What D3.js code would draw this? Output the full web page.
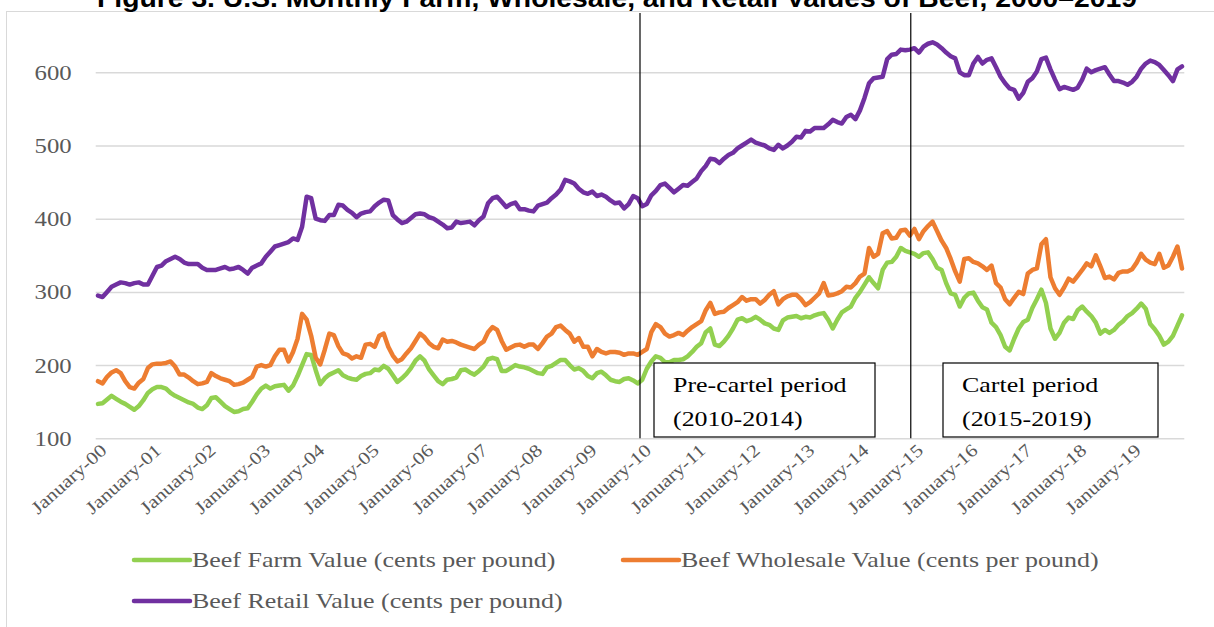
<!DOCTYPE html>
<html>
<head>
<meta charset="utf-8">
<script src="https://cdn.jsdelivr.net/npm/d3@7"></script>
<style>
  body { margin: 0; background: #fff; }
  svg { display: block; }
</style>
</head>
<body>
<div id="chart"></div>
<script>
// Monthly values, January 2000 to December 2019 (cents per pound)
const farm = [
  147,148,153,158,154,150,147,143,139,144,152,162,
  167,170,170,168,162,158,155,152,149,147,142,140,
  145,155,156,150,144,140,136,137,140,141,150,160,
  168,172,168,171,172,173,165,172,185,200,215,214,
  193,174,182,187,190,193,186,183,181,180,185,188,
  189,194,193,199,195,186,177,182,188,196,206,212,
  206,194,186,178,174,180,181,183,193,194,190,187,
  192,198,208,210,208,192,192,196,200,198,197,195,
  192,189,188,197,199,203,207,207,200,194,196,192,
  185,182,189,191,186,180,178,177,181,182,179,175,
  180,195,205,212,210,204,204,207,207,208,212,218,
  225,230,245,250,228,226,232,240,250,262,264,260,
  262,266,262,257,255,250,248,261,265,266,267,264,
  266,265,268,270,271,262,250,262,272,276,280,292,
  300,310,320,312,305,330,340,341,348,360,356,354,
  352,348,353,354,345,333,330,312,298,296,280,292,
  298,299,288,279,276,258,252,241,225,220,236,250,
  259,262,278,290,303,285,250,236,244,258,265,263,
  275,280,273,267,258,243,248,244,248,255,260,267,
  271,277,284,277,256,249,240,228,232,240,254,268
];

const wholesale = [
  178,175,184,190,193,189,178,170,168,176,181,196,
  201,202,202,203,205,198,187,187,183,178,174,175,
  177,189,185,182,180,178,173,174,176,180,184,198,
  200,198,200,212,221,221,205,218,236,270,262,240,
  210,201,221,243,241,226,216,214,209,212,210,228,
  229,225,240,243,225,213,205,208,216,223,233,243,
  238,230,225,223,235,232,233,231,228,226,224,222,
  228,232,245,252,248,233,221,224,227,228,225,228,
  228,222,230,239,243,252,254,248,243,232,237,225,
  225,212,222,218,216,218,218,217,214,216,216,214,
  218,222,245,256,252,243,239,241,244,241,247,252,
  256,260,275,285,270,272,273,278,282,286,293,288,
  290,290,284,289,296,301,283,290,294,296,296,290,
  282,286,292,298,312,295,296,298,301,307,306,312,
  321,325,360,348,352,380,383,373,374,384,385,377,
  386,372,383,390,396,383,370,360,345,328,314,345,
  346,341,339,335,330,336,312,306,290,283,292,300,
  297,325,330,332,365,372,320,305,296,306,318,314,
  322,330,339,335,350,335,319,321,317,326,328,328,
  331,340,352,344,340,338,352,333,336,348,362,332
];

const retail = [
  295,293,300,307,310,313,312,310,312,313,310,310,
  322,334,336,342,345,348,345,340,338,338,338,333,
  330,330,330,332,334,331,332,334,330,325,333,336,
  339,348,355,362,364,366,368,373,371,389,430,428,
  400,398,397,405,405,419,418,412,408,402,407,409,
  410,417,422,426,425,405,399,394,396,401,406,407,
  406,402,400,396,392,387,388,396,394,395,396,391,
  398,403,421,428,430,423,416,420,422,413,413,411,
  410,418,420,422,428,433,440,453,451,448,441,436,
  434,437,431,433,430,425,421,422,414,420,431,428,
  417,420,432,438,446,448,442,436,441,446,445,450,
  455,465,472,482,481,476,482,487,490,496,500,504,
  508,504,502,500,496,494,501,496,500,505,512,511,
  520,519,524,524,524,529,535,532,530,539,542,536,
  548,565,585,592,593,594,618,624,625,631,630,631,
  633,627,635,639,641,638,633,627,622,619,600,596,
  596,612,621,612,617,619,607,594,585,578,576,564,
  572,587,592,601,618,620,604,590,577,580,578,576,
  579,590,605,600,603,605,607,597,588,588,586,583,
  587,594,605,612,616,614,610,603,596,588,604,608
];

const tickLabels = [
  "January-00","January-01","January-02","January-03","January-04",
  "January-05","January-06","January-07","January-08","January-09",
  "January-10","January-11","January-12","January-13","January-14",
  "January-15","January-16","January-17","January-18","January-19"
];
const yTicks = [100, 200, 300, 400, 500, 600];

const seriesNames = [
  "Beef Farm Value (cents per pound)",
  "Beef Wholesale Value (cents per pound)",
  "Beef Retail Value (cents per pound)"
];
const seriesColors = ["#92d050", "#ed7d31", "#7030a0"];

// period dividers (month index) and their boxes
const periodBreaks = [119.5, 179.2];
const periodLines = [["Pre-cartel period", "(2010-2014)"], ["Cartel period", "(2015-2019)"]];

const title = "Figure 3. U.S. Monthly Farm, Wholesale, and Retail Values of Beef, 2000\u20132019";

const width = 1214;
const height = 627;
const stretch = 1.18;   // the original text is a bit wide
const serif = "'Liberation Serif', 'Times New Roman', serif";
const grey = "#595959";

const x = d3.scaleLinear().domain([0, 239]).range([98, 1182]);
const y = d3.scaleLinear().domain([100, 600]).range([438.3, 72.3]);

const svg = d3.select("#chart").append("svg")
  .attr("width", width)
  .attr("height", height)
  .attr("viewBox", [0, 0, width, height]);

svg.append("rect").attr("width", width).attr("height", height).attr("fill", "#fff");

// outer frame
svg.append("rect")
  .attr("x", 6.5).attr("y", 11.5)
  .attr("width", width).attr("height", height)
  .attr("fill", "none").attr("stroke", "#d9d9d9");

// title (cut off at the top in the original)
svg.append("text")
  .attr("x", width / 2 + 10).attr("y", 7)
  .attr("text-anchor", "middle")
  .attr("font-family", "'Liberation Sans', Arial, sans-serif")
  .attr("font-weight", "bold")
  .attr("font-size", 26)
  .attr("textLength", 1040)
  .attr("lengthAdjust", "spacingAndGlyphs")
  .attr("fill", "#000")
  .text(title);

// y axis: gridlines and labels
const yAxis = svg.append("g")
  .attr("transform", `translate(${x(0) - 2.3},0)`)
  .call(d3.axisLeft(y).tickValues(yTicks).tickSize(-(x(239) - x(0) + 4.6)).tickPadding(0))
  .call(g => g.select(".domain").remove())
  .call(g => g.selectAll(".tick line").attr("stroke", "#d9d9d9").attr("stroke-width", 1.5))
  .call(g => g.selectAll(".tick text").remove());

yAxis.selectAll(".tick").append("text")
  .attr("transform", `translate(-24,7) scale(${stretch},1)`)
  .attr("text-anchor", "end")
  .attr("font-family", serif)
  .attr("font-size", 21)
  .attr("fill", grey)
  .text(d => d);

// x axis labels, one per January
svg.append("g")
  .selectAll("text")
  .data(tickLabels)
  .join("text")
  .attr("transform", (d, i) => `translate(${x(i * 12) + 10},452) rotate(-42) scale(${stretch},1)`)
  .attr("text-anchor", "end")
  .attr("font-family", serif)
  .attr("font-size", 18)
  .attr("fill", grey)
  .text(d => d);

// series lines
const line = d3.line()
  .x((d, i) => x(i))
  .y(d => y(d));

svg.append("g")
  .attr("fill", "none")
  .attr("stroke-width", 4.5)
  .attr("stroke-linejoin", "round")
  .attr("stroke-linecap", "round")
  .selectAll("path")
  .data([farm, wholesale, retail])
  .join("path")
  .attr("stroke", (d, i) => seriesColors[i])
  .attr("d", line);

// period dividers
svg.append("g")
  .selectAll("line")
  .data(periodBreaks)
  .join("line")
  .attr("x1", d => x(d)).attr("x2", d => x(d))
  .attr("y1", 13).attr("y2", y(100))
  .attr("stroke", "#000")
  .attr("stroke-width", 1.2);

// period boxes
const boxes = svg.append("g")
  .selectAll("g")
  .data(periodLines)
  .join("g")
  .attr("transform", (d, i) => `translate(${[654, 943][i]},363)`);

boxes.append("rect")
  .attr("width", (d, i) => [221, 215][i])
  .attr("height", 74)
  .attr("fill", "#fff")
  .attr("stroke", "#000")
  .attr("stroke-width", 1.2);

boxes.each(function(d) {
  d3.select(this).selectAll("text")
    .data(d)
    .join("text")
    .attr("transform", (t, j) => `translate(19,${29 + j * 34}) scale(${stretch},1)`)
    .attr("font-family", serif)
    .attr("font-size", 22)
    .attr("fill", "#000")
    .text(t => t);
});

// legend
const legendPos = [[134, 560], [623, 560], [134, 601]];
const legend = svg.append("g")
  .selectAll("g")
  .data(seriesNames)
  .join("g")
  .attr("transform", (d, i) => `translate(${legendPos[i][0]},${legendPos[i][1]})`);

legend.append("line")
  .attr("x1", 0).attr("x2", 56)
  .attr("stroke", (d, i) => seriesColors[i])
  .attr("stroke-width", 4.5)
  .attr("stroke-linecap", "round");

legend.append("text")
  .attr("transform", `translate(58,7) scale(${stretch},1)`)
  .attr("font-family", serif)
  .attr("font-size", 22)
  .attr("fill", grey)
  .text(d => d);
</script>
</body>
</html>
